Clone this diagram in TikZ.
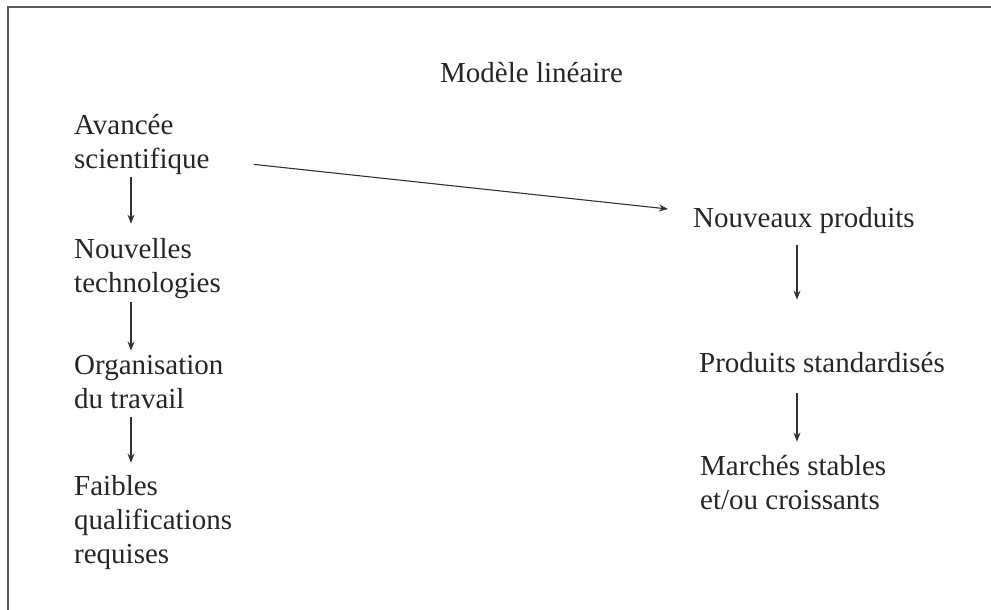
\documentclass[tikz,border=0pt]{standalone}
\usepackage{fontspec}
\setmainfont{Liberation Serif}
\usetikzlibrary{arrows.meta}

\begin{document}
\begin{tikzpicture}[x=1pt,y=-1pt,
  texte/.style={anchor=base west, inner sep=0pt, align=left, text=black!85,
    font=\fontsize{29}{34}\selectfont},
  fleche/.style={-{Stealth[length=9pt,width=7pt]}, line width=1.1pt, draw=black!80},
  cadre/.style={line width=1.5pt, draw=black!65}]
\useasboundingbox (0,0) rectangle (991,610);
\draw[cadre] (8,620) -- (8,7) -- (1000,7);

\node[texte] (titre) at (440,82){Modèle linéaire};

% base = last line
\node[texte] (av) at (74,168){Avancée\\scientifique};
\node[texte] (nt) at (74,292){Nouvelles\\technologies};
\node[texte] (org) at (74,408){Organisation\\du travail};
\node[texte] (fq) at (74,563){Faibles\\qualifications\\requises};

\node[texte] (np) at (693,227){Nouveaux produits};
\node[texte] (ps) at (699,372){Produits standardisés};
\node[texte] (ms) at (700,509){Marchés stables\\et/ou croissants};


\draw[fleche, shorten <=3pt, shorten >=14pt]([xshift=57pt]av.south west) -- ([xshift=57pt]av.south west |- nt.north);
\draw[fleche, shorten <=4pt, shorten >=4pt]([xshift=57pt]nt.south west) -- ([xshift=57pt]nt.south west |- org.north);
\draw[fleche, shorten <=9pt, shorten >=12pt]([xshift=57pt]org.south west) -- ([xshift=57pt]org.south west |- fq.north);
\draw[fleche]([xshift=44pt,yshift=10pt]av.south east) -- ([xshift=-25pt,yshift=18pt]np.base west);
\draw[fleche, shorten <=12pt, shorten >=52pt]([xshift=104pt]np.south west) -- ([xshift=104pt]np.south west |- ps.north);
\draw[fleche, shorten <=21pt, shorten >=13pt]([xshift=98pt]ps.south west) -- ([xshift=98pt]ps.south west |- ms.north);

\end{tikzpicture}
\end{document}
